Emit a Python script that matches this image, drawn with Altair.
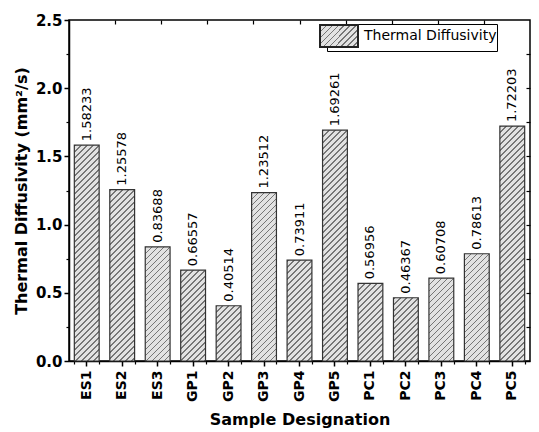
import json
import altair as alt

categories = ["ES1", "ES2", "ES3", "GP1", "GP2", "GP3", "GP4", "GP5",
              "PC1", "PC2", "PC3", "PC4", "PC5"]
values = [1.58233, 1.25578, 0.83688, 0.66557, 0.40514, 1.23512, 0.73911,
          1.69261, 0.56956, 0.46367, 0.60708, 0.78613, 1.72203]
labels = ["1.58233", "1.25578", "0.83688", "0.66557", "0.40514", "1.23512",
          "0.73911", "1.69261", "0.56956", "0.46367", "0.60708", "0.78613",
          "1.72203"]
series_name = "Thermal Diffusivity"
y_ticks = [0.0, 0.5, 1.0, 1.5, 2.0, 2.5]
y_minor = [0.25, 0.75, 1.25, 1.75, 2.25]
y_all = [0.25, 0.5, 0.75, 1.0, 1.25, 1.5, 1.75, 2.0, 2.25]
top_ticks = [1, 2, 3, 4, 5, 6, 7, 8, 9]

W, H = 461, 341
YMAX = 2.5
PAD_IN, PAD_OUT = 0.3, 0.15
step = W / (len(categories) - PAD_IN + 2 * PAD_OUT)
BW = step * (1 - PAD_IN)


def hatch(w, h, p=6.0, lw=0.3, line="#767676", bg="#e2e2e2"):
    L = w + h
    k = L / (w * w + h * h)
    P = p / L
    stops = []
    n = 0
    while n * P < 1:
        a = n * P
        b = min(a + lw * P, 1.0)
        c = min((n + 1) * P, 1.0)
        stops += [{"offset": round(a, 5), "color": line},
                  {"offset": round(b, 5), "color": line},
                  {"offset": round(b, 5), "color": bg},
                  {"offset": round(c, 5), "color": bg}]
        n += 1
    return {"gradient": "linear", "x1": 0, "y1": 0,
            "x2": round(w * k, 5), "y2": round(h * k, 5), "stops": stops}


records = [{"cat": c, "val": v, "lab": l, "series": series_name,
            "grad": hatch(BW, v / YMAX * H)}
           for c, v, l in zip(categories, values, labels)]
data = alt.Data(values=records)

legend_grad = json.dumps(hatch(38, 22))

xs = alt.Scale(type="band", domain=categories, paddingInner=PAD_IN, paddingOuter=PAD_OUT)
ys = alt.Scale(domain=[0, YMAX], nice=False, zero=True)

FONT = "DejaVu Sans"

bars = alt.Chart(data).mark_bar(stroke="#333333", strokeWidth=1.2).encode(
    x=alt.X("cat:N", sort=categories, scale=xs, axis=alt.Axis(
        title="Sample Designation", labelAngle=270, labelFont=FONT,
        labelFontWeight="bold", labelFontSize=14, labelColor="black",
        labelPadding=4, tickSize=5, tickWidth=1.5, tickColor="black",
        domainColor="black", domainWidth=1.5, titleFont=FONT,
        titleFontSize=16, titleFontWeight="bold", titleColor="black",
        titlePadding=10, grid=False)),
    y=alt.Y("val:Q", scale=ys, axis=alt.Axis(
        title="Thermal Diffusivity (mm²/s)", values=y_ticks, format=".1f",
        labelFont=FONT, labelFontWeight="bold", labelFontSize=15,
        labelColor="black", labelPadding=2, tickSize=5, tickWidth=1.5,
        tickColor="black", domainColor="black", domainWidth=1.5,
        titleFont=FONT, titleFontSize=16, titleFontWeight="bold",
        titleColor="black", titlePadding=6, grid=False)),
    fill=alt.Fill("grad:N", scale=None),
)

text = alt.Chart(data).mark_text(angle=270, align="left", baseline="middle",
                                  dx=4, font=FONT, fontSize=13, color="black").encode(
    x=alt.X("cat:N", sort=categories, scale=xs, axis=None),
    y=alt.Y("val:Q", scale=ys, axis=None),
    text="lab:N",
)

empty = alt.Chart(data).transform_filter("false")

minor_x = empty.mark_square(filled=True, stroke="#222222", strokeWidth=2).encode(
    x=alt.X("cat:N", sort=categories, scale=xs, axis=alt.Axis(
        orient="top", offset=-(H + 3), tickBand="extent", tickSize=3,
        tickWidth=1.2, tickColor="black", labels=False, domain=False,
        title=None, grid=False)),
    y=alt.Y("val:Q", scale=ys, axis=None),
    color=alt.Color("series:N", scale=alt.Scale(
        domain=[series_name], range=[alt.ExprRef(expr=legend_grad)]),
        legend=alt.Legend(title=None, orient="none", legendX=258, legendY=4,
                          symbolType="M-1.727,-1H1.727V1H-1.727Z", symbolSize=484,
                          symbolStrokeColor="#222222", symbolStrokeWidth=2,
                          symbolOpacity=1, labelFont=FONT, labelFontSize=14,
                          labelColor="black", labelOffset=13, strokeColor="black",
                          fillColor="white", padding=0, rowPadding=0,
                          offset=0)),
)

minor_y = empty.mark_point().encode(
    x=alt.X("cat:N", sort=categories, scale=xs, axis=None),
    y=alt.Y("val:Q", scale=ys, axis=alt.Axis(
        orient="left", values=y_minor, tickSize=3, tickWidth=1.2,
        tickColor="black", labels=False, domain=False, title=None, grid=False)),
)

right_y = empty.mark_point().encode(
    x=alt.X("cat:N", sort=categories, scale=xs, axis=None),
    y=alt.Y("val:Q", scale=ys, axis=alt.Axis(
        orient="right", values=y_all, offset=-4, tickSize=4, tickWidth=1.2,
        tickColor="black", labels=False, domain=False, title=None, grid=False)),
)

inner = alt.layer(bars, text, minor_x, minor_y, right_y).resolve_axis(
    x="independent", y="independent")

top = alt.Chart(alt.Data(values=[{"t": 0}])).transform_filter("false").mark_point().encode(
    x=alt.X("t:Q", scale=alt.Scale(domain=[0, 10], nice=False), axis=alt.Axis(
        orient="top", values=top_ticks, offset=-4, tickSize=4, tickWidth=1.2,
        tickColor="black", labels=False, domain=False, title=None, grid=False)),
)

chart = alt.layer(inner, top).resolve_scale(x="independent").properties(
    width=W, height=H,
    padding={"left": 61, "top": 12, "right": 1, "bottom": 71},
    autosize=alt.AutoSizeParams(type="none"),
    background="white",
).configure_view(stroke="black", strokeWidth=1.5).configure_axis(
    grid=False).configure_legend(padding=0, rowPadding=0)

chart.save("out.html", embed_options={"renderer": "svg", "actions": False})
